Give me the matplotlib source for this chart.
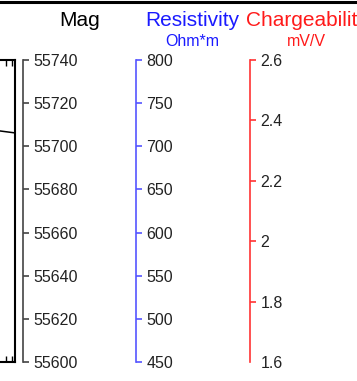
import matplotlib
matplotlib.use("Agg")
import matplotlib.pyplot as plt
from matplotlib.lines import Line2D
from matplotlib.ticker import FormatStrFormatter

plt.rcParams['font.family'] = ['Liberation Sans', 'DejaVu Sans']

W, H = 357, 381
DPI = 100

# Profile data (distance along line, magnetic field in nT)
distance = [90, 100]
mag_values = [55708.1, 55706.2]

# Axis scales
mag_ticks = [55600, 55620, 55640, 55660, 55680, 55700, 55720, 55740]
res_ticks = [450, 500, 550, 600, 650, 700, 750, 800]
chg_ticks = [1.6, 1.8, 2.0, 2.2, 2.4, 2.6]
chg_labels = ['1.6', '1.8', '2', '2.2', '2.4', '2.6']
dist_minor = [97.1, 99.05]

fig = plt.figure(figsize=(W / DPI, H / DPI), dpi=DPI)


def fx(px):
    return px / W


def fy(py):
    return 1 - py / H


top_px, bot_px = 60, 362
ax_bottom = fy(bot_px)
ax_height = fy(top_px) - fy(bot_px)

# Main profile panel (only its right edge is on the canvas)
main = fig.add_axes([fx(-300), ax_bottom, fx(315), ax_height])
main.plot(distance, mag_values, color='black', lw=1.1)
main.set_xlim(0, 100)
main.set_ylim(mag_ticks[0], mag_ticks[-1])
main.set_yticks([])
main.set_xticks(dist_minor)
main.set_xticklabels([])
main.tick_params(axis='x', direction='in', length=4, width=1, top=True, bottom=True)
for s in main.spines.values():
    s.set_linewidth(1.5)
    s.set_color('black')


def scale_axis(x_px, ticks, lim, spine_color, fmt):
    ax = fig.add_axes([fx(x_px), ax_bottom, 0.0005, ax_height])
    ax.patch.set_visible(False)
    for name, s in ax.spines.items():
        s.set_visible(name == 'left')
    ax.spines['left'].set_color(spine_color)
    ax.spines['left'].set_linewidth(1.2)
    ax.set_xticks([])
    ax.set_ylim(*lim)
    ax.set_yticks(ticks)
    ax.yaxis.set_major_formatter(fmt)
    ax.yaxis.tick_right()
    ax.tick_params(axis='y', direction='out', length=4.5, width=1.2,
                   color=spine_color, labelsize=11.5, labelcolor='#222222', pad=3)
    return ax


mag_ax = scale_axis(23, mag_ticks, (55600, 55740), '#444444', FormatStrFormatter('%d'))
res_ax = scale_axis(136, res_ticks, (450, 800), '#5555ff', FormatStrFormatter('%d'))
chg_ax = scale_axis(250, chg_ticks, (1.6, 2.6), '#ff3333', FormatStrFormatter('%g'))
chg_ax.yaxis.get_major_ticks()[0].tick2line.set_visible(False)
chg_ax.set_yticklabels(chg_labels)

# Panel titles and units
fig.text(fx(80), fy(26), 'Mag', ha='center', va='baseline', fontsize=15, color='black')
fig.text(fx(192.5), fy(26), 'Resistivity', ha='center', va='baseline', fontsize=15, color='#1a1aff')
fig.text(fx(192.5), fy(46), 'Ohm*m', ha='center', va='baseline', fontsize=11.5, color='#1a1aff')
fig.text(fx(246), fy(26), 'Chargeability', ha='left', va='baseline', fontsize=15, color='#ff1a1a')
fig.text(fx(306), fy(46), 'mV/V', ha='center', va='baseline', fontsize=11.5, color='#ff1a1a')

# Heavy rule along the top edge
fig.add_artist(Line2D([0, 1], [fy(1.5), fy(1.5)], color='black', lw=2.2,
                      transform=fig.transFigure))

fig.savefig('out.png', dpi=DPI)
